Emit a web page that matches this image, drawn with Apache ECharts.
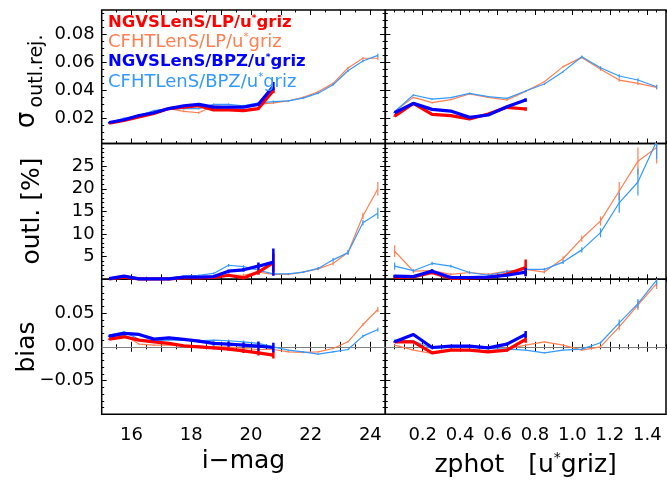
<!DOCTYPE html>
<html><head><meta charset="utf-8">
<script src="https://cdn.jsdelivr.net/npm/echarts@6/dist/echarts.min.js"></script>
<style>html,body{margin:0;padding:0;background:#fff}#c{width:667px;height:481px}</style>
</head><body><div id="c"></div>
<script>
// ---------------- DATA ----------------
const magBins = [15.25,15.75,16.25,16.75,17.25,17.75,18.25,18.75,19.25,19.75,20.25,20.75,21.25,21.75,22.25,22.75,23.25,23.75,24.25];
const zBins = [0.05,0.15,0.25,0.35,0.45,0.55,0.65,0.75,0.85,0.95,1.05,1.15,1.25,1.35,1.45];

const magTickLabels = [16,18,20,22,24];
const zTickLabels = [0.2,0.4,0.6,0.8,1.0,1.2,1.4];
const sigTickLabels = [0.02,0.04,0.06,0.08];
const outlTickLabels = [5,10,15,20,25];
const biasTickLabels = [-0.05,0.00,0.05];

const seriesNames = ['NGVSLenS/LP/u*griz','CFHTLenS/LP/u*griz','NGVSLenS/BPZ/u*griz','CFHTLenS/BPZ/u*griz'];

// sigma_outl.rej. vs i-mag
const sigMag_NGVS_LP  = [0.0165,0.0185,0.021,0.0235,0.027,0.028,0.029,0.026,0.026,0.0255,0.027,0.040];
const sigMag_NGVS_BPZ = [0.017,0.019,0.022,0.024,0.027,0.029,0.030,0.028,0.028,0.028,0.030,0.043];
const sigMag_CFHT_LP  = [0.017,0.019,0.022,0.024,0.027,0.025,0.024,0.029,0.028,0.028,0.030,0.031,0.0325,0.035,0.039,0.045,0.056,0.063,0.063];
const sigMag_CFHT_BPZ = [0.017,0.020,0.022,0.0255,0.027,0.027,0.027,0.030,0.030,0.029,0.031,0.032,0.0325,0.0345,0.038,0.044,0.054,0.061,0.065];
const errSigMag_NGVS_LP  = [0.0004,0.0004,0.0004,0.0004,0.0004,0.0004,0.0004,0.0005,0.0005,0.0006,0.0008,0.0020];
const errSigMag_NGVS_BPZ = [0.0004,0.0004,0.0004,0.0004,0.0004,0.0004,0.0004,0.0005,0.0005,0.0006,0.0009,0.0030];
const errSigMag_CFHT_LP  = [0.0007,0.0007,0.0007,0.0007,0.0007,0.0007,0.0007,0.0007,0.0007,0.0007,0.0007,0.0007,0.0007,0.0007,0.0007,0.0007,0.0008,0.0009,0.0015];
const errSigMag_CFHT_BPZ = [0.0007,0.0007,0.0007,0.0007,0.0007,0.0007,0.0007,0.0007,0.0007,0.0007,0.0007,0.0007,0.0007,0.0007,0.0007,0.0007,0.0008,0.0009,0.0012];

// sigma_outl.rej. vs zphot
const sigZ_NGVS_LP  = [0.0216,0.0307,0.0229,0.0219,0.0195,0.0231,0.0279,0.0267];
const sigZ_NGVS_BPZ = [0.024,0.0307,0.0264,0.0252,0.0207,0.0224,0.0283,0.0331];
const sigZ_CFHT_LP  = [0.025,0.035,0.0312,0.0334,0.0374,0.035,0.0331,0.0393,0.0462,0.057,0.0636,0.0551,0.0474,0.045,0.0422];
const sigZ_CFHT_BPZ = [0.0247,0.0367,0.0338,0.0348,0.0379,0.0355,0.0343,0.0396,0.0446,0.0534,0.0641,0.0562,0.0503,0.0474,0.0426];
const errSigZ_NGVS_LP  = [0.0004,0.0004,0.0004,0.0004,0.0004,0.0004,0.0005,0.0012];
const errSigZ_NGVS_BPZ = [0.0004,0.0004,0.0004,0.0004,0.0004,0.0004,0.0005,0.0012];
const errSigZ_CFHT_LP  = [0.0005,0.0005,0.0005,0.0005,0.0005,0.0005,0.0005,0.0005,0.0005,0.0006,0.0008,0.0010,0.0012,0.0012,0.0015];
const errSigZ_CFHT_BPZ = [0.0005,0.0005,0.0005,0.0005,0.0005,0.0005,0.0005,0.0005,0.0005,0.0006,0.0008,0.0010,0.0012,0.0012,0.0015];

// outlier fraction [%] vs i-mag
const outlMag_NGVS_LP  = [0.1,0.5,0.1,0.1,0.1,0.3,0.3,0.4,0.9,0.3,1.6,3.7];
const outlMag_NGVS_BPZ = [0.15,0.7,0.1,0.1,0.1,0.5,0.5,0.6,1.8,2.1,2.9,3.8];
const outlMag_CFHT_LP  = [0.15,0.5,0.1,0.1,0.1,0.4,0.5,0.7,0.9,0.9,1.6,1.1,1.1,1.6,2.3,3.5,5.9,14.0,20.0];
const outlMag_CFHT_BPZ = [0.15,0.7,0.1,0.1,0.2,0.7,0.9,1.3,3.1,2.8,2.0,1.2,1.2,1.6,2.4,4.3,5.9,12.5,14.6];
const errOutlMag_NGVS_LP  = [0.1,0.2,0.1,0.1,0.1,0.1,0.1,0.2,0.3,0.3,0.6,2.0];
const errOutlMag_NGVS_BPZ = [0.1,0.2,0.1,0.1,0.1,0.1,0.2,0.2,0.3,0.4,0.8,3.0];
const errOutlMag_CFHT_LP  = [0.1,0.2,0.1,0.1,0.1,0.15,0.15,0.2,0.3,0.3,0.3,0.2,0.2,0.2,0.3,0.4,0.5,0.7,1.5];
const errOutlMag_CFHT_BPZ = [0.1,0.2,0.1,0.1,0.1,0.15,0.15,0.2,0.3,0.3,0.3,0.2,0.2,0.2,0.3,0.4,0.5,0.6,1.2];

// outlier fraction [%] vs zphot
const outlZ_NGVS_LP  = [0.5,0.5,1.5,0.2,0.3,0.4,1.1,2.6];
const outlZ_NGVS_BPZ = [0.7,0.6,1.8,0.4,0.4,0.5,0.9,1.6];
const outlZ_CFHT_LP  = [6.2,1.8,1.9,1.1,1.5,1.1,1.8,2.2,1.6,4.6,9.0,12.9,19.5,26.1,29.1];
const outlZ_CFHT_BPZ = [2.9,1.9,3.5,2.9,1.5,0.9,1.7,2.2,2.2,3.8,6.5,10.3,16.9,21.5,30.5];
const errOutlZ_NGVS_LP  = [0.3,0.3,0.4,0.2,0.2,0.2,0.4,1.8];
const errOutlZ_NGVS_BPZ = [0.3,0.3,0.4,0.2,0.2,0.2,0.3,0.9];
const errOutlZ_CFHT_LP  = [1.3,0.4,0.4,0.3,0.3,0.3,0.3,0.3,0.3,0.5,0.7,1.0,2.0,3.0,3.5];
const errOutlZ_CFHT_BPZ = [0.8,0.3,0.4,0.3,0.3,0.3,0.3,0.3,0.3,0.4,0.6,1.0,2.2,3.0,4.0];

// bias vs i-mag
const biasMag_NGVS_LP  = [0.0114,0.0148,0.0099,0.0074,0.005,0.0015,0.0,-0.0015,-0.0035,-0.006,-0.009,-0.0123];
const biasMag_NGVS_BPZ = [0.0158,0.0198,0.0183,0.0114,0.0133,0.011,0.0084,0.005,0.004,0.0025,0.001,-0.001];
const biasMag_CFHT_LP  = [0.0148,0.0173,0.004,0.0025,0.0025,0.001,0.001,0.0,0.0,-0.0025,-0.004,-0.004,-0.0074,-0.0084,-0.0074,-0.0025,0.0074,0.033,0.0553];
const biasMag_CFHT_BPZ = [0.0173,0.0222,0.011,0.009,0.0099,0.0099,0.009,0.0099,0.009,0.0074,0.005,0.0,-0.005,-0.0074,-0.0108,-0.0074,-0.004,0.0158,0.0257];
const errBiasMag_NGVS_LP  = [0.001,0.001,0.001,0.001,0.001,0.001,0.0015,0.002,0.002,0.003,0.004,0.005];
const errBiasMag_NGVS_BPZ = [0.001,0.001,0.001,0.0012,0.0015,0.002,0.002,0.003,0.004,0.004,0.007,0.007];
const errBiasMag_CFHT_LP  = [0.001,0.001,0.001,0.001,0.001,0.001,0.001,0.001,0.001,0.001,0.001,0.001,0.001,0.001,0.001,0.001,0.0012,0.002,0.004];
const errBiasMag_CFHT_BPZ = [0.001,0.001,0.001,0.001,0.001,0.001,0.001,0.001,0.002,0.002,0.002,0.001,0.001,0.001,0.001,0.001,0.0012,0.002,0.003];

// bias vs zphot
const biasZ_NGVS_LP  = [0.0074,0.0074,-0.009,-0.005,-0.005,-0.0074,-0.005,0.011];
const biasZ_NGVS_BPZ = [0.0074,0.0183,-0.001,0.001,0.001,-0.0015,0.004,0.0183];
const biasZ_CFHT_LP  = [0.0025,-0.005,-0.0099,-0.0035,-0.005,-0.006,-0.0035,0.0025,0.0074,0.0025,-0.005,0.0,0.0296,0.0617,0.0937];
const biasZ_CFHT_BPZ = [0.0099,0.009,-0.0025,-0.001,-0.001,-0.0025,-0.0035,-0.005,-0.009,-0.005,-0.0035,0.006,0.0355,0.064,0.0986];
const errBiasZ_NGVS_LP  = [0.001,0.001,0.001,0.001,0.001,0.001,0.002,0.005];
const errBiasZ_NGVS_BPZ = [0.001,0.001,0.001,0.001,0.001,0.001,0.002,0.005];
const errBiasZ_CFHT_LP  = [0.001,0.001,0.001,0.001,0.001,0.001,0.001,0.001,0.001,0.001,0.001,0.002,0.005,0.007,0.008];
const errBiasZ_CFHT_BPZ = [0.001,0.001,0.001,0.001,0.001,0.001,0.001,0.001,0.001,0.001,0.001,0.002,0.005,0.007,0.008];

// ---------------- STYLE / LAYOUT ----------------
const COL = {NGVS_LP:'#ff0000', CFHT_LP:'#ff7f50', NGVS_BPZ:'#0000ff', CFHT_BPZ:'#3399ff'};
const FONT = 'DejaVu Sans';
const cols = [{left:101.7, width:283.6},{left:385.3, width:280.7}];
const rows = [{top:10, height:133.5},{top:143.5, height:135.8},{top:279.3, height:135}];

const range = (a,b,s)=>{const r=[];for(let v=a;v<=b+1e-9;v+=s)r.push(+v.toFixed(6));return r;};
const notIn = (arr, ex)=>arr.filter(v=>!ex.some(e=>Math.abs(e-v)<1e-9));

const xDefs = [
  {min:15, max:24.5, major:range(15,24,1), minor:notIn(range(15,24.5,0.5),range(15,24,1)), labels:magTickLabels, fmt:v=>v.toFixed(0)},
  {min:0, max:1.5, major:range(0,1.4,0.2), minor:notIn(range(0,1.5,0.05),range(0,1.4,0.2)), labels:zTickLabels, fmt:v=>v.toFixed(1)}
];
const yDefs = [
  {min:0.002, max:0.0975, major:range(0.02,0.08,0.02), minor:notIn(range(0.005,0.095,0.005),range(0.02,0.08,0.02)), labels:sigTickLabels, fmt:v=>v.toFixed(2)},
  {min:0, max:30, major:range(0,30,5), minor:notIn(range(0,30,1),range(0,30,5)), labels:outlTickLabels, fmt:v=>v.toFixed(0)},
  {min:-0.1, max:0.1, major:range(-0.1,0.1,0.05), minor:notIn(range(-0.1,0.1,0.01),range(-0.1,0.1,0.05)), labels:biasTickLabels, fmt:v=>v.toFixed(2).replace('-','\u2212')}
];

const grids=[], xAxes=[], yAxes=[], series=[];
const labelStyle = {color:'#000', fontFamily:FONT, fontSize:18};

function axis(kind, gi, def, pos, ticks, len, showLabel){
  return {type:'value', gridIndex:gi, min:def.min, max:def.max, position:pos,
    axisLine:{show:false}, splitLine:{show:false},
    axisTick:{show:true, inside:true, length:len, customValues:ticks, lineStyle:{color:'#000', width:1}},
    axisLabel:{show:!!showLabel, customValues:def.labels, formatter:v=>def.fmt(v), margin: kind==='x'?12:7, ...labelStyle}
  };
}

const panels = [
  {r:0,c:0,xs:magBins, d:{CFHT_LP:[sigMag_CFHT_LP,errSigMag_CFHT_LP],CFHT_BPZ:[sigMag_CFHT_BPZ,errSigMag_CFHT_BPZ],NGVS_LP:[sigMag_NGVS_LP,errSigMag_NGVS_LP],NGVS_BPZ:[sigMag_NGVS_BPZ,errSigMag_NGVS_BPZ]}},
  {r:0,c:1,xs:zBins, d:{CFHT_LP:[sigZ_CFHT_LP,errSigZ_CFHT_LP],CFHT_BPZ:[sigZ_CFHT_BPZ,errSigZ_CFHT_BPZ],NGVS_LP:[sigZ_NGVS_LP,errSigZ_NGVS_LP],NGVS_BPZ:[sigZ_NGVS_BPZ,errSigZ_NGVS_BPZ]}},
  {r:1,c:0,xs:magBins, d:{CFHT_LP:[outlMag_CFHT_LP,errOutlMag_CFHT_LP],CFHT_BPZ:[outlMag_CFHT_BPZ,errOutlMag_CFHT_BPZ],NGVS_LP:[outlMag_NGVS_LP,errOutlMag_NGVS_LP],NGVS_BPZ:[outlMag_NGVS_BPZ,errOutlMag_NGVS_BPZ]}},
  {r:1,c:1,xs:zBins, d:{CFHT_LP:[outlZ_CFHT_LP,errOutlZ_CFHT_LP],CFHT_BPZ:[outlZ_CFHT_BPZ,errOutlZ_CFHT_BPZ],NGVS_LP:[outlZ_NGVS_LP,errOutlZ_NGVS_LP],NGVS_BPZ:[outlZ_NGVS_BPZ,errOutlZ_NGVS_BPZ]}},
  {r:2,c:0,xs:magBins, d:{CFHT_LP:[biasMag_CFHT_LP,errBiasMag_CFHT_LP],CFHT_BPZ:[biasMag_CFHT_BPZ,errBiasMag_CFHT_BPZ],NGVS_LP:[biasMag_NGVS_LP,errBiasMag_NGVS_LP],NGVS_BPZ:[biasMag_NGVS_BPZ,errBiasMag_NGVS_BPZ]}},
  {r:2,c:1,xs:zBins, d:{CFHT_LP:[biasZ_CFHT_LP,errBiasZ_CFHT_LP],CFHT_BPZ:[biasZ_CFHT_BPZ,errBiasZ_CFHT_BPZ],NGVS_LP:[biasZ_NGVS_LP,errBiasZ_NGVS_LP],NGVS_BPZ:[biasZ_NGVS_BPZ,errBiasZ_NGVS_BPZ]}}
];

const order = ['CFHT_LP','CFHT_BPZ','NGVS_LP','NGVS_BPZ'];
panels.forEach((p,gi)=>{
  grids.push({left:cols[p.c].left, width:cols[p.c].width, top:rows[p.r].top, height:rows[p.r].height,
    show:true, borderColor:'#000', borderWidth:1.5, backgroundColor:'transparent', containLabel:false});
  const xd = xDefs[p.c], yd = yDefs[p.r];
  const xi = xAxes.length, yi = yAxes.length;
  xAxes.push(axis('x',gi,xd,'bottom',xd.major,5,p.r===2));
  xAxes.push(axis('x',gi,xd,'bottom',xd.minor,2.5,false));
  xAxes.push(axis('x',gi,xd,'top',xd.major,5,false));
  xAxes.push(axis('x',gi,xd,'top',xd.minor,2.5,false));
  yAxes.push(axis('y',gi,yd,'left',yd.major,5,p.c===0));
  yAxes.push(axis('y',gi,yd,'left',yd.minor,2.5,false));
  yAxes.push(axis('y',gi,yd,'right',yd.major,5,false));
  yAxes.push(axis('y',gi,yd,'right',yd.minor,2.5,false));
  order.forEach((k,si)=>{
    const [ys, es] = p.d[k];
    const thick = k.startsWith('NGVS');
    const w = thick ? 3.2 : 1.2;
    const s = {type:'line', xAxisIndex:xi, yAxisIndex:yi, data: ys.map((y,i)=>[p.xs[i], y]),
      symbol:'none', showSymbol:false, silent:true, clip:true, animation:false,
      lineStyle:{color:COL[k], width:w}, z: 2+si};
    if (p.r===2 && k==='CFHT_LP') {
      s.markLine = {silent:true, symbol:'none', animation:false, label:{show:false},
        lineStyle:{color:'#808080', width:1, type:'solid'}, data:[{yAxis:0}], z:1};
    }
    series.push(s);
    series.push({type:'custom', xAxisIndex:xi, yAxisIndex:yi, silent:true, clip:true, animation:false, z:2+si,
      data: ys.map((y,i)=>[p.xs[i], y-es[i], y+es[i]]),
      renderItem:(params, api)=>{
        const a = api.coord([api.value(0), api.value(1)]);
        const b = api.coord([api.value(0), api.value(2)]);
        return {type:'line', shape:{x1:a[0],y1:a[1],x2:b[0],y2:b[1]}, style:{stroke:COL[k], lineWidth: thick?2.5:1.2}};
      }});
  });
});

const supRich = (size, color, weight)=>({
  m:{fontSize:size, fontFamily:FONT, fontWeight:weight, fill:color, lineHeight:size+2},
  s:{fontSize:Math.round(size*0.55), fontFamily:FONT, fontWeight:weight, fill:color, verticalAlign:'top', lineHeight:size+2}
});
const legendItems = [
  {name:seriesNames[0], color:COL.NGVS_LP, bold:true, y:23},
  {name:seriesNames[1], color:COL.CFHT_LP, bold:false, y:42.5},
  {name:seriesNames[2], color:COL.NGVS_BPZ, bold:true, y:62},
  {name:seriesNames[3], color:COL.CFHT_BPZ, bold:false, y:82}
];
const graphics = legendItems.map(it=>{
  const parts = it.name.split('*');
  const size = it.bold ? 16.5 : 18;
  return {type:'text', x:108, y:it.y, z:100, style:{
    text:'{m|'+parts[0]+'}{s|*}{m|'+parts[1]+'}', rich:supRich(size, it.color, it.bold?'bold':'normal'),
    align:'left', verticalAlign:'middle'}};
});
const titleFont = {fontFamily:FONT, fill:'#000'};
graphics.push({type:'text', x:27.5, y:120, rotation:Math.PI/2, style:{text:'σ', fontSize:26, ...titleFont, align:'center', verticalAlign:'middle'}});
graphics.push({type:'text', x:37, y:71, rotation:Math.PI/2, style:{text:'outl.rej.', fontSize:19, ...titleFont, align:'center', verticalAlign:'middle'}});
graphics.push({type:'text', x:32, y:211, rotation:Math.PI/2, style:{text:'outl. [%]', fontSize:25, ...titleFont, align:'center', verticalAlign:'middle'}});
graphics.push({type:'text', x:27, y:347, rotation:Math.PI/2, style:{text:'bias', fontSize:25, ...titleFont, align:'center', verticalAlign:'middle'}});
graphics.push({type:'text', x:243.5, y:461, style:{text:'i\u2212mag', fontSize:25, ...titleFont, align:'center', verticalAlign:'middle'}});
graphics.push({type:'text', x:525.6, y:465, style:{
  text:'{m|zphot   [u}{s|*}{m|griz]}', rich:supRich(25,'#000','normal'), align:'center', verticalAlign:'middle'}});

const chart = echarts.init(document.getElementById('c'), null, {renderer:'canvas'});
chart.setOption({animation:false, backgroundColor:'#fff', grid:grids, xAxis:xAxes, yAxis:yAxes, series, graphic:graphics});
</script></body></html>
